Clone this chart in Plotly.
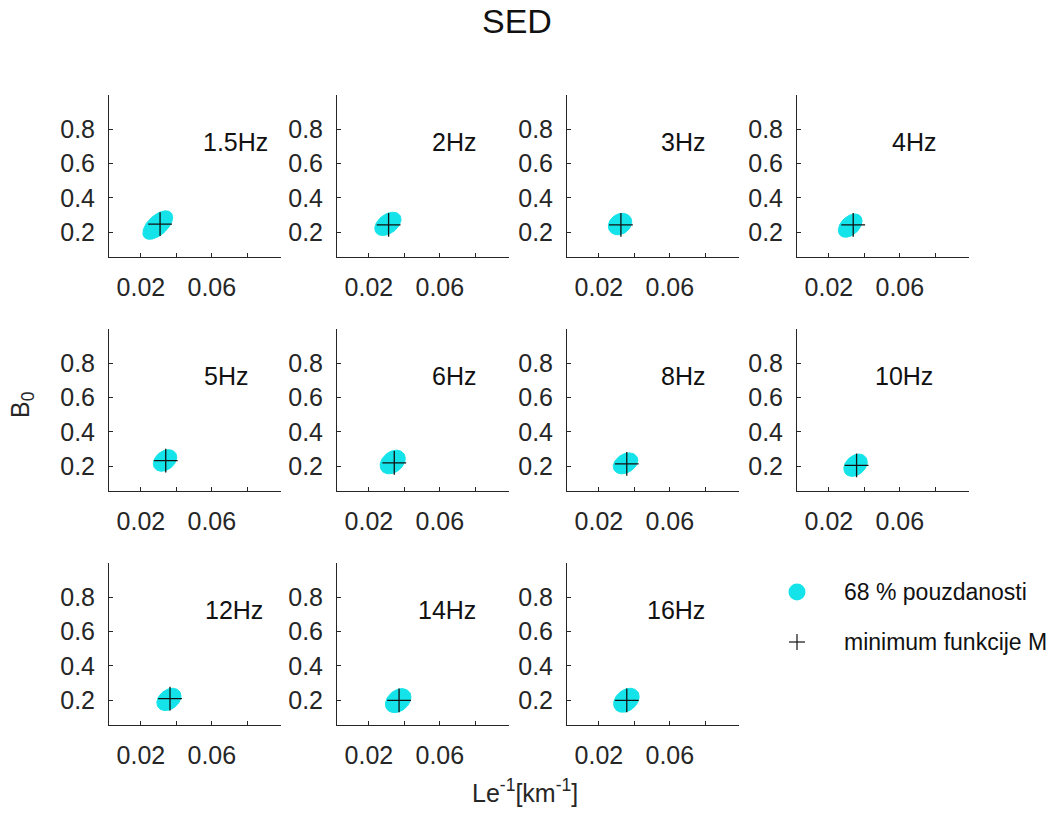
import numpy as np
import plotly.graph_objects as go

# ---------------- data ----------------
freq_labels = ["1.5Hz", "2Hz", "3Hz", "4Hz", "5Hz", "6Hz", "8Hz", "10Hz", "12Hz", "14Hz", "16Hz"]

# 68 % confidence region: centre, half-widths and correlation (tilt)
ell_cx = [0.0295, 0.0307, 0.0319, 0.0320, 0.0336, 0.0334, 0.0350, 0.0350, 0.0358, 0.0365, 0.0355]
ell_cy = [0.242, 0.249, 0.248, 0.239, 0.234, 0.225, 0.217, 0.206, 0.205, 0.198, 0.200]
ell_rx = [0.0084, 0.0074, 0.0066, 0.0067, 0.0066, 0.0071, 0.0069, 0.0066, 0.0068, 0.0072, 0.0072]
ell_ry = [0.083, 0.068, 0.063, 0.068, 0.063, 0.069, 0.061, 0.065, 0.065, 0.070, 0.070]
ell_rho = [0.55, 0.40, 0.20, 0.40, 0.30, 0.30, 0.30, 0.30, 0.30, 0.30, 0.30]

# minimum of function M
min_x = [0.0308, 0.0311, 0.0324, 0.0337, 0.0340, 0.0343, 0.0357, 0.0356, 0.0364, 0.0370, 0.0357]
min_y = [0.247, 0.243, 0.243, 0.243, 0.233, 0.220, 0.214, 0.205, 0.210, 0.200, 0.200]

x_tickvals = [0.02, 0.04, 0.06, 0.08]
x_ticktext = ["0.02", "", "0.06", ""]
y_tickvals = [0.2, 0.4, 0.6, 0.8]
y_ticktext = ["0.2", "0.4", "0.6", "0.8"]

title_text = "SED"
x_title = "Le<sup>-1</sup>[km<sup>-1</sup>]"
y_title = "B<sub>0</sub>"
legend_labels = ["68 % pouzdanosti", "minimum funkcije M"]

# ---------------- layout / style ----------------
W, H = 1060, 814
FONT = "Liberation Sans, Arial, Helvetica, sans-serif"
AX = "#262626"
CYAN = "#14e4ea"
col_left = [109, 337, 567, 797]
row_top = [95, 329, 563]
pw, ph = 172, 162
x_range = [0.002, 0.099]
y_range = [0.056, 1.0]
label_right = [161, 141, 140, 141, 141, 141, 140, 138, 156, 141, 140]


def px(x):
    return x / W


def py(y):
    return 1 - y / H


fig = go.Figure()
layout = dict(
    width=W, height=H, margin=dict(l=0, r=0, t=0, b=0),
    paper_bgcolor="white", plot_bgcolor="white", showlegend=False,
    font=dict(family=FONT, color=AX),
)
annotations = []
shapes = []

t = np.linspace(0, 2 * np.pi, 90)
for i, lab in enumerate(freq_labels):
    r, c = divmod(i, 4)
    n = "" if i == 0 else str(i + 1)
    xa, ya = "x" + n, "y" + n
    ex = ell_cx[i] + ell_rx[i] * np.cos(t)
    ey = ell_cy[i] + ell_ry[i] * (ell_rho[i] * np.cos(t) + np.sqrt(1 - ell_rho[i] ** 2) * np.sin(t))
    fig.add_trace(go.Scatter(x=ex, y=ey, mode="lines", fill="toself", fillcolor=CYAN,
                             line=dict(color=CYAN, width=1), xaxis=xa, yaxis=ya,
                             hoverinfo="skip"))
    fig.add_trace(go.Scatter(x=[min_x[i]], y=[min_y[i]], mode="markers",
                             marker=dict(symbol="cross-thin", size=17,
                                         line=dict(color="#111111", width=1.3)),
                             xaxis=xa, yaxis=ya))
    x0 = col_left[c]
    y0 = row_top[r]
    layout["xaxis" + n] = dict(
        domain=[px(x0), px(x0 + pw)], range=x_range, anchor=ya,
        showline=True, linecolor=AX, linewidth=1, mirror=False,
        ticks="inside", ticklen=4, tickcolor=AX, tickwidth=1,
        tickvals=x_tickvals, ticktext=x_ticktext, ticklabelstandoff=8,
        tickfont=dict(size=25, color=AX, family=FONT),
        showgrid=False, zeroline=False, fixedrange=True,
    )
    layout["yaxis" + n] = dict(
        domain=[py(y0 + ph), py(y0)], range=y_range, anchor=xa,
        showline=True, linecolor=AX, linewidth=1, mirror=False,
        ticks="inside", ticklen=4, tickcolor=AX, tickwidth=1,
        tickvals=y_tickvals, ticktext=y_ticktext, ticklabelstandoff=8,
        tickfont=dict(size=25, color=AX, family=FONT),
        showgrid=False, zeroline=False, fixedrange=True,
    )
    annotations.append(dict(
        text=lab, xref=xa + " domain", yref=ya + " domain",
        x=label_right[i] / pw, y=0.71, xanchor="right", yanchor="middle",
        showarrow=False, font=dict(size=25, color="#111111", family=FONT),
    ))

# titles
annotations.append(dict(text=title_text, xref="paper", yref="paper", x=px(517), y=py(21),
                         xanchor="center", yanchor="middle", showarrow=False,
                         font=dict(size=34, color="#111111", family=FONT)))
annotations.append(dict(text=x_title, xref="paper", yref="paper", x=px(525), y=py(791),
                        xanchor="center", yanchor="middle", showarrow=False,
                        font=dict(size=25, color=AX, family=FONT)))
annotations.append(dict(text=y_title, xref="paper", yref="paper", x=px(22), y=py(405),
                        xanchor="center", yanchor="middle", showarrow=False, textangle=-90,
                        font=dict(size=25, color=AX, family=FONT)))

# legend (drawn manually)
shapes.append(dict(type="circle", xref="paper", yref="paper",
                   x0=px(797 - 8.5), x1=px(797 + 8.5), y0=py(592 + 8.5), y1=py(592 - 8.5),
                   fillcolor=CYAN, line=dict(color=CYAN, width=0)))
shapes.append(dict(type="line", xref="paper", yref="paper",
                   x0=px(797 - 8), x1=px(797 + 8), y0=py(642), y1=py(642),
                   line=dict(color="#111111", width=1.2)))
shapes.append(dict(type="line", xref="paper", yref="paper",
                   x0=px(797), x1=px(797), y0=py(642 - 8), y1=py(642 + 8),
                   line=dict(color="#111111", width=1.2)))
for k, (lbl, yy) in enumerate(zip(legend_labels, [592, 642])):
    annotations.append(dict(text=lbl, xref="paper", yref="paper", x=px(842), y=py(yy),
                            xanchor="left", yanchor="middle", showarrow=False,
                            font=dict(size=23, color="#111111", family=FONT)))

layout["annotations"] = annotations
layout["shapes"] = shapes
fig.update_layout(**layout)
fig.write_html("out.html")
